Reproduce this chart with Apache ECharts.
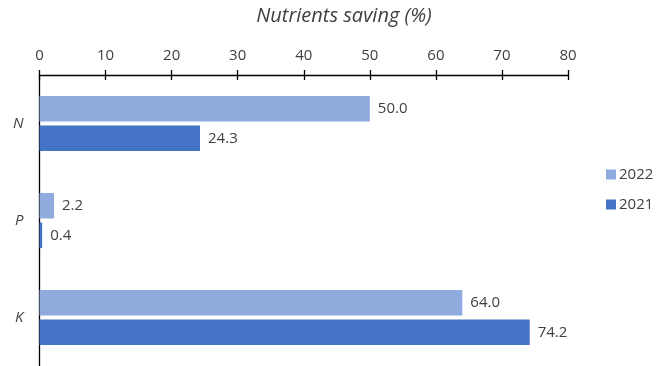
<!DOCTYPE html>
<html>
<head>
<meta charset="utf-8">
<script src="https://cdn.jsdelivr.net/npm/echarts@6/dist/echarts.min.js"></script>
<style>
  html, body { margin: 0; padding: 0; background: #fff; }
  #chart { width: 656px; height: 366px; }
</style>
</head>
<body>
<div id="chart"></div>
<script>
// Nutrient savings per nutrient, two seasons
const categories = ['N', 'P', 'K'];
const values2022 = [50.0, 2.2, 64.0];
const values2021 = [24.3, 0.4, 74.2];
const xTicks = { min: 0, max: 80, interval: 10 };

const FONT = '"Open Sans", "Noto Sans", sans-serif';
const TEXT = '#404040';

const chart = echarts.init(document.getElementById('chart'), null, { renderer: 'canvas' });

const labelStyle = {
  show: true,
  position: 'right',
  distance: 8,
  color: TEXT,
  fontSize: 15,
  fontFamily: FONT,
  formatter: p => p.value.toFixed(1)
};

chart.setOption({
  animation: false,
  title: {
    text: 'Nutrients saving (%)',
    left: 344,
    top: 6,
    padding: 0,
    textAlign: 'center',
    textStyle: { fontSize: 20, fontStyle: 'italic', fontWeight: 'normal', color: TEXT, fontFamily: FONT }
  },
  legend: {
    orient: 'vertical',
    left: 606,
    top: 167,
    padding: 0,
    itemWidth: 10,
    itemHeight: 10,
    itemGap: 15,
    icon: 'rect',
    textStyle: { fontSize: 15, color: TEXT, fontFamily: FONT, padding: [0, 0, 0, -2] },
    data: ['2022', '2021']
  },
  grid: { left: 39.5, top: 75, width: 528.5, height: 298, containLabel: false },
  xAxis: [
    {
      type: 'value',
      position: 'top',
      min: xTicks.min, max: xTicks.max, interval: xTicks.interval,
      axisLine: { show: true, lineStyle: { color: '#000', width: 1.3 } },
      axisTick: { show: true, length: 5, lineStyle: { color: '#000', width: 1.3 } },
      axisLabel: { color: TEXT, fontSize: 15, fontFamily: FONT, margin: 12 },
      splitLine: { show: false }
    },
    {
      // inner half of the cross ticks
      type: 'value',
      position: 'top',
      min: xTicks.min, max: xTicks.max, interval: xTicks.interval,
      axisLine: { show: false },
      axisTick: { show: true, inside: true, length: 5, lineStyle: { color: '#000', width: 1.3 } },
      axisLabel: { show: false },
      splitLine: { show: false }
    }
  ],
  yAxis: {
    type: 'category',
    data: categories,
    inverse: true,
    axisLine: { show: true, lineStyle: { color: '#000', width: 1.3 } },
    axisTick: { show: false },
    axisLabel: { color: TEXT, fontSize: 15, fontStyle: 'italic', fontFamily: FONT, margin: 16 }
  },
  series: [
    {
      name: '2022',
      type: 'bar',
      xAxisIndex: 0,
      data: values2022,
      barWidth: 25.5,
      barGap: '16%',
      itemStyle: { color: '#8FAADC' },
      label: labelStyle
    },
    {
      name: '2021',
      type: 'bar',
      xAxisIndex: 0,
      data: values2021,
      barWidth: 25.5,
      barGap: '16%',
      itemStyle: { color: '#4472C4' },
      label: labelStyle
    }
  ]
});
</script>
</body>
</html>
